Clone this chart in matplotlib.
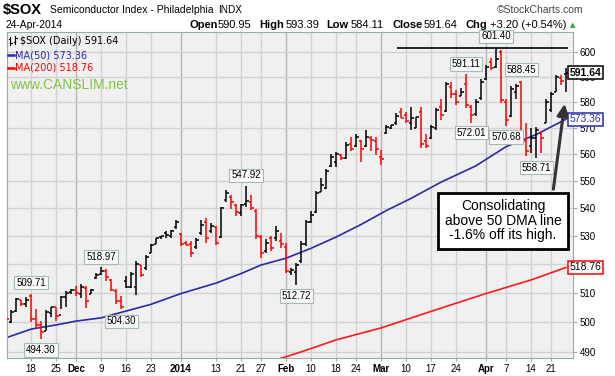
import numpy as np
import pandas as pd
import matplotlib
matplotlib.use("Agg")
import matplotlib.pyplot as plt
from matplotlib.ticker import FixedLocator, FixedFormatter, NullLocator

# trading days shown on the chart
holidays = ["2013-11-28", "2013-12-25", "2014-01-01", "2014-01-20", "2014-02-17", "2014-04-18"]
dates = pd.bdate_range("2013-11-11", "2014-04-24")
dates = dates[~dates.isin(pd.to_datetime(holidays))]

# daily OHLC (Nov, Dec, Jan, Feb, Mar, Apr)
opens = [502, 500, 503.7, 507.5, 506, 509, 501, 499, 497, 503, 505, 502.5, 508.5, 510.2,
         511, 509.5, 511.5, 509.5, 515, 516.5, 517.5, 514.5, 510.5, 507, 514, 512, 512, 519.5, 518.5,
         524, 527, 529.5, 531, 530, 533,
         530.5, 527.5, 527, 526, 531, 535, 531.5, 533, 529.5, 543, 544, 541, 538, 541.5, 542, 539,
         529.5, 524.5, 529, 529, 528,
         526, 517, 517, 521, 527, 535, 538.5, 546, 547.5, 555.5, 557, 559.8, 558.5, 564, 563, 565,
         563, 566, 565,
         559, 568, 570, 572, 576, 575, 572, 570, 576, 565, 566, 570, 578, 576.5, 586, 583, 582.5,
         587, 578, 575.5, 581.5,
         589, 596, 594, 600, 580, 574.5, 584, 588, 565, 563, 566, 568, 572, 577, 584, 589.5, 590.95]
highs = [503, 504, 508.3, 507.6, 508.5, 509.71, 504.5, 500.5, 504, 505.2, 505.2, 509, 510.6, 511.2,
         512.4, 513, 512.4, 511.2, 516.7, 518.97, 518.3, 514.6, 511.2, 509, 515.6, 517, 521, 519.7,
         523.1, 527, 529.3, 530, 531.5, 532, 535.5,
         530.9, 528, 528, 529.3, 535.5, 536.4, 534.6, 533.4, 540.5, 546.5, 544.6, 541.3, 541.3,
         547.92, 544.6, 539.6, 530.3, 528.8, 530, 533.4, 531,
         527.5, 518.5, 520.3, 528, 535.6, 538.9, 546.4, 550.9, 554.3, 560.2, 560.8, 560.2, 564.5,
         566.6, 567.7, 565.5, 569, 567, 566.5,
         561.6, 571.2, 571.2, 575.6, 577.6, 576.2, 578, 574.3, 578, 567.5, 571.2, 577.6, 581.4, 588,
         588, 584.9, 585.6, 591.11, 578.9, 581.4, 589,
         594.6, 597.5, 601.4, 600.8, 581.4, 586.4, 587, 588.45, 571.8, 569.9, 570.5, 568.7, 581.4,
         583.9, 590.6, 590.6, 593.39]
lows = [500, 499.5, 503.5, 505.5, 505, 500, 497.5, 494.3, 497, 501.8, 500.5, 504.3, 505.2, 509.4,
        509, 508, 504.8, 509.4, 514.6, 516, 514.2, 510.5, 506, 504.3, 511.7, 511.7, 509.3, 515.4,
        518, 524, 527, 528.7, 529.3, 529.3, 532.5,
        526.2, 526.5, 522.5, 525.4, 530.3, 527.5, 531, 526.5, 529.3, 542.3, 539.7, 537, 537, 540.5,
        539.1, 528.8, 522, 524, 524.7, 528, 525.7,
        516.8, 516.1, 512.72, 520.3, 526.4, 534.6, 538.2, 545.8, 547, 555.2, 555.2, 557.7, 558,
        561, 562.5, 557, 562.5, 561, 559.5,
        556, 567.7, 569.4, 571.2, 573.7, 571.8, 569.3, 569.9, 562.4, 562.4, 565.6, 569.3, 573,
        576.2, 581.5, 578.9, 582.4, 577.7, 572.01, 574.4, 581,
        588.6, 592.9, 593.5, 579.6, 570.68, 574.3, 581.4, 565.6, 559.2, 560.4, 558.71, 560.4,
        571.8, 576.2, 583.9, 586.7, 584.11]
closes = [501, 503.5, 507.8, 506, 507.5, 501, 499, 496.5, 503.5, 505, 502, 508.5, 510, 511,
          510, 512, 507, 511, 516, 517.5, 515.5, 511, 507, 505, 511.9, 516.5, 520, 516, 522.5,
          526.5, 529, 529.8, 530.2, 531.5, 535,
          527, 526.8, 524, 528.5, 534, 529, 533.5, 527.5, 540, 545.5, 542, 538.5, 541, 542.5, 540,
          530, 524, 527.5, 525.5, 531.5, 527,
          517.5, 518, 519.5, 527, 535, 537.5, 545.5, 548.5, 553.5, 559, 560, 558.5, 563.5, 562,
          566.5, 562, 566.5, 565.5, 562,
          558, 570.5, 571, 574.5, 574, 572.5, 574, 574.2, 564, 563, 570.5, 577, 575, 587, 583, 580,
          584, 579, 575, 580, 588,
          594, 593.5, 597, 581, 573, 585, 586.5, 567, 561, 566, 569, 566, 580, 583, 590, 588.44,
          591.64]

# moving averages, read at a few days (index into dates)
ma50_idx = [0, 5, 10, 14, 19, 24, 29, 35, 42, 47, 51, 56, 61, 66, 71, 76, 81, 87, 94, 100, 106, 112]
ma50_val = [494.7, 497.6, 499.0, 500.3, 501.4, 503.7, 506.0, 509.7, 513.3, 516.6, 519.6, 522.0,
            525.5, 529.5, 534.0, 539.0, 543.5, 549.5, 555.6, 562.8, 567.4, 573.36]
ma200_idx = [55, 59, 66, 75, 85, 96, 105, 112]
ma200_val = [487.9, 490.0, 494.0, 498.0, 503.6, 509.7, 514.4, 518.76]

tick_dates = ["2013-11-18", "2013-11-25", "2013-12-02", "2013-12-09", "2013-12-16", "2013-12-23",
              "2014-01-02", "2014-01-13", "2014-01-21", "2014-01-27", "2014-02-03", "2014-02-10",
              "2014-02-18", "2014-02-24", "2014-03-03", "2014-03-10", "2014-03-17", "2014-03-24",
              "2014-04-01", "2014-04-07", "2014-04-14", "2014-04-21"]
tick_labels = ["18", "25", "Dec", "9", "16", "23", "2014", "13", "21", "27", "Feb", "10", "18",
               "24", "Mar", "10", "17", "24", "Apr", "7", "14", "21"]
month_labels = ["Dec", "2014", "Feb", "Mar", "Apr"]

price_ticks = [490, 500, 510, 520, 530, 540, 550, 560, 570, 580, 590, 600]
price_labels = ["490", "500", "510", "", "530", "540", "550", "560", "570", "580", "590", "600"]

n = len(dates)
x = np.arange(n)
prev = [502] + closes[:-1]
cols = ["#ff0000" if c < p else "black" for c, p in zip(closes, prev)]

plt.rcParams["font.family"] = ["Liberation Sans", "DejaVu Sans"]
W, H = 615, 376
fig = plt.figure(figsize=(6.15, 3.76), dpi=100)
ax = fig.add_axes([6.5 / W, 1 - 358 / H, (573 - 6.5) / W, (358 - 32) / H])
ax.set_facecolor("#f0f0f0")

ax.set_yscale("log")
ax.set_ylim(488.0, 608.1)
ax.set_xlim(0.1, 113.4)

# grid
tick_pos = [int(np.where(dates == pd.Timestamp(d))[0][0]) for d in tick_dates]
for p, lab in zip(tick_pos, tick_labels):
    c = "#b4b4b4" if lab in month_labels else "#d2d2d2"
    ax.axvline(p, color=c, lw=1, zorder=0)
for v in price_ticks:
    ax.axhline(v, color="#d2d2d2", lw=1, zorder=0)

# price bars
ax.vlines(x, lows, highs, colors=cols, lw=1.1, zorder=3)
ax.hlines(opens, x - 0.5, x, colors=cols, lw=1.1, zorder=3)
ax.hlines(closes, x, x + 0.5, colors=cols, lw=1.1, zorder=3)

# moving averages
ax.plot(ma50_idx, ma50_val, color="#2a2aa5", lw=1.2, zorder=2)
ax.plot(ma200_idx, ma200_val, color="#ff1a1a", lw=1.2, zorder=2)

# prior high line
ax.hlines(601.4, 78.2, 112.4, color="black", lw=1.2, zorder=3)

# axes styling
for s in ax.spines.values():
    s.set_color("#8fb3a3")
ax.yaxis.tick_right()
ax.yaxis.set_major_locator(FixedLocator(price_ticks))
ax.yaxis.set_major_formatter(FixedFormatter(price_labels))
ax.yaxis.set_minor_locator(NullLocator())
ax.tick_params(axis="y", labelsize=7, length=3, pad=2, color="#8fb3a3")
ax.xaxis.set_major_locator(FixedLocator(tick_pos))
ax.xaxis.set_major_formatter(FixedFormatter(tick_labels))
ax.tick_params(axis="x", labelsize=7, length=2, pad=2, color="#8fb3a3")
for t in ax.get_xticklabels():
    if t.get_text() in month_labels:
        t.set_fontweight("bold")

# high / low call-outs
def callout(i, v, txt, dy):
    ax.annotate(txt, xy=(i, v), xytext=(0, dy), textcoords="offset pixels", ha="center",
                va="center", fontsize=7, zorder=6,
                bbox=dict(boxstyle="square,pad=0.18", fc="#f9f9f9", ec="#a7bab0", lw=0.8))

def idx(d):
    return int(np.where(dates == pd.Timestamp(d))[0][0])

callout(idx("2013-11-18"), 509.71, "509.71", 11)
callout(idx("2013-11-20"), 494.30, "494.30", -11)
callout(idx("2013-12-09"), 518.97, "518.97", 10)
callout(idx("2013-12-13"), 504.30, "504.30", -12)
callout(idx("2014-01-22"), 547.92, "547.92", 11)
callout(idx("2014-02-05"), 512.72, "512.72", -11)
callout(idx("2014-03-26"), 591.11, "591.11", 10)
callout(idx("2014-03-27"), 572.01, "572.01", -10)
callout(idx("2014-04-03"), 601.40, "601.40", 12)
callout(idx("2014-04-10"), 588.45, "588.45", 11)
callout(idx("2014-04-07"), 570.68, "570.68", -11)
callout(idx("2014-04-15"), 558.71, "558.71", -10)

# value tags on the right axis
def side_tag(v, txt, ec, tc, weight="normal"):
    ax.annotate(txt, xy=(1, v), xycoords=("axes fraction", "data"), xytext=(-3, 0),
                textcoords="offset pixels", ha="left", va="center", fontsize=7.5,
                color=tc, fontweight=weight, zorder=8, annotation_clip=False,
                bbox=dict(boxstyle="square,pad=0.15", fc="white", ec=ec, lw=1.1))

side_tag(591.64, "591.64", "black", "black", "bold")
side_tag(573.36, "573.36", "#2a2aa5", "#2a2aa5")
side_tag(518.76, "518.76", "#ff0000", "black")

# comment box and arrow
ax.annotate("", xy=(111.8, 580.4), xytext=(109.4, 545.9),
            arrowprops=dict(arrowstyle="-|>,head_length=0.7,head_width=0.35",
                            color="#333333", lw=2.2), zorder=7)
ax.text(99.4, 535.3, "Consolidating\nabove 50 DMA line\n-1.6% off its high.", ha="center",
        va="center", fontsize=10, linespacing=1.05, zorder=9,
        bbox=dict(boxstyle="square,pad=0.45", fc="white", ec="black", lw=2))

# legend inside the chart
def fx(px):
    return (px - 6.5) / (573 - 6.5)

def fy(py):
    return (358 - py) / (358 - 32)

# small bar icon
for bx, (lo, hi, o, c) in zip([10, 15], [(37, 45, 39, 43), (36, 44, 42, 38)]):
    ax.plot([fx(bx), fx(bx)], [fy(lo), fy(hi)], transform=ax.transAxes, color="black", lw=0.8,
            clip_on=False, zorder=9)
    ax.plot([fx(bx - 1.5), fx(bx)], [fy(o), fy(o)], transform=ax.transAxes, color="black",
            lw=0.8, clip_on=False, zorder=9)
    ax.plot([fx(bx), fx(bx + 1.5)], [fy(c), fy(c)], transform=ax.transAxes, color="black",
            lw=0.8, clip_on=False, zorder=9)
ax.text(fx(20), fy(41), "$SOX (Daily) 591.64", transform=ax.transAxes, fontsize=7,
        family="DejaVu Sans", va="center", zorder=9)
ax.plot([fx(8), fx(14)], [fy(55), fy(55)], transform=ax.transAxes, color="#2a2aa5", lw=1.8,
        zorder=9)
ax.text(fx(15), fy(55), "MA(50) 573.36", transform=ax.transAxes, fontsize=7,
        family="DejaVu Sans", color="#2a2aa5", va="center", zorder=9)
ax.plot([fx(8), fx(14)], [fy(68), fy(68)], transform=ax.transAxes, color="#ff0000", lw=1.8,
        zorder=9)
ax.text(fx(15), fy(68), "MA(200) 518.76", transform=ax.transAxes, fontsize=7,
        family="DejaVu Sans", color="#ff0000", va="center", zorder=9)
ax.text(fx(10), fy(85), "www.CANSLIM.net", transform=ax.transAxes, fontsize=10,
        color="#84c441", va="center", zorder=9)

# header
fig.text(3 / W, 1 - 10 / H, "$SOX", fontsize=10.5, fontweight="bold", va="center")
fig.text(50 / W, 1 - 10 / H, "Semiconductor Index - Philadelphia", fontsize=7.5, va="center")
fig.text(218 / W, 1 - 10 / H, "INDX", fontsize=7.2, va="center")
fig.text(497 / W, 1 - 10 / H, "\u00a9StockCharts.com", fontsize=7.5, color="#444444", va="center")
fig.text(5 / W, 1 - 25 / H, "24-Apr-2014", fontsize=7.4, va="center")
hdr = [("Open", 189, True), ("590.95", 218, False), ("High", 259, True), ("593.39", 286, False),
       ("Low", 326, True), ("584.11", 351, False), ("Close", 392, True), ("591.64", 424, False),
       ("Chg", 466, True), ("+3.20 (+0.54%)", 490, False)]
for txt, px, b in hdr:
    fig.text(px / W, 1 - 25 / H, txt, fontsize=8, fontweight="bold" if b else "normal", va="center")
fig.text(570 / W, 1 - 25 / H, "\u25b2", fontsize=5, color="#22aa22", va="center",
         family="DejaVu Sans")

fig.savefig("out.png", dpi=100)
